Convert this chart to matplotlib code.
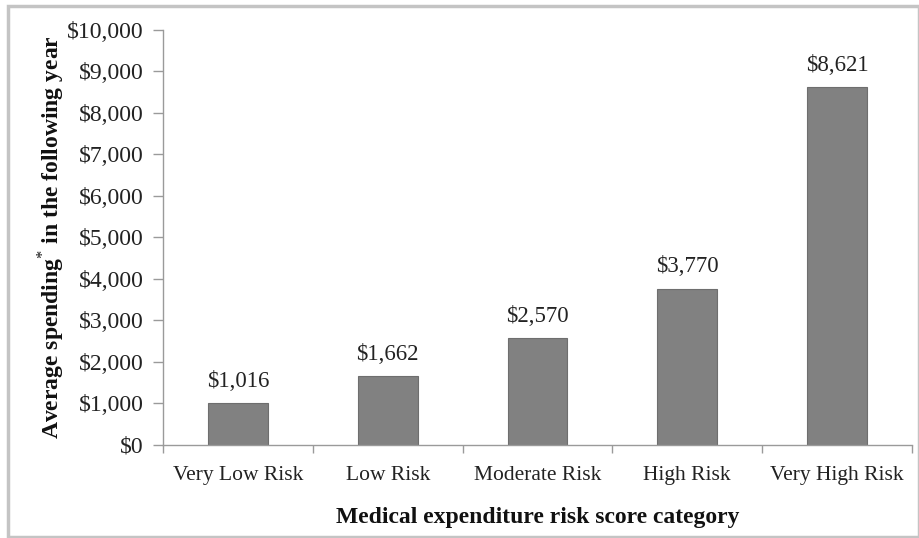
import matplotlib
matplotlib.use("Agg")
import matplotlib.pyplot as plt
from matplotlib.patches import Rectangle
from matplotlib.ticker import FuncFormatter, MultipleLocator

categories = ["Very Low Risk", "Low Risk", "Moderate Risk", "High Risk", "Very High Risk"]
spending = [1016, 1662, 2570, 3770, 8621]
value_labels = ["$1,016", "$1,662", "$2,570", "$3,770", "$8,621"]

plt.rcParams["font.family"] = ["Liberation Serif", "DejaVu Serif"]
plt.rcParams["mathtext.fontset"] = "custom"
plt.rcParams["mathtext.rm"] = "Liberation Serif"
plt.rcParams["mathtext.bf"] = "Liberation Serif:bold"

fig = plt.figure(figsize=(9.2, 5.38), dpi=100)
ax = fig.add_axes([0.1772, 0.1729, 0.814, 0.7714])

x = list(range(len(categories)))
ax.bar(x, spending, width=0.4, color="#818181", edgecolor="#6e6e6e", linewidth=0.8)

for xi, v, lab in zip(x, spending, value_labels):
    ax.annotate(lab, (xi, v), xytext=(0, 8), textcoords="offset points",
                ha="center", va="bottom", fontsize=16.5, color="#222222")

ax.set_xlim(-0.5, len(categories) - 0.5)
ax.set_ylim(0, 10000)
ax.yaxis.set_major_locator(MultipleLocator(1000))
ax.yaxis.set_major_formatter(FuncFormatter(lambda v, p: f"${int(v):,}"))

ax.set_xticks(x)
ax.set_xticklabels(categories)
ax.set_xticks([i - 0.5 for i in range(len(categories) + 1)], minor=True)
ax.tick_params(axis="x", which="major", length=0, pad=15, labelsize=15.5, colors="#222222")
ax.tick_params(axis="x", which="minor", length=6, color="#9a9a9a", width=1)
ax.tick_params(axis="y", length=7, color="#9a9a9a", width=1, pad=7, labelsize=17, labelcolor="#222222")

for side in ("top", "right"):
    ax.spines[side].set_visible(False)
for side in ("left", "bottom"):
    ax.spines[side].set_color("#9a9a9a")
    ax.spines[side].set_linewidth(1)

ax.set_xlabel("Medical expenditure risk score category", fontsize=17, fontweight="bold",
              color="#111111")
ax.xaxis.set_label_coords(0.5, -0.15)
ax.set_ylabel("Average spending$^{*}$ in the following year", fontsize=17, fontweight="bold",
              color="#111111")
ax.yaxis.set_label_coords(-0.128, 0.5)

# light gray frame around the figure
fig.patches.append(Rectangle((8 / 920, 1 / 538), 911 / 920, 531 / 538, transform=fig.transFigure,
                             fill=False, edgecolor="#c4c4c4", linewidth=2.5))

fig.savefig("out.png", dpi=100, facecolor="white")
